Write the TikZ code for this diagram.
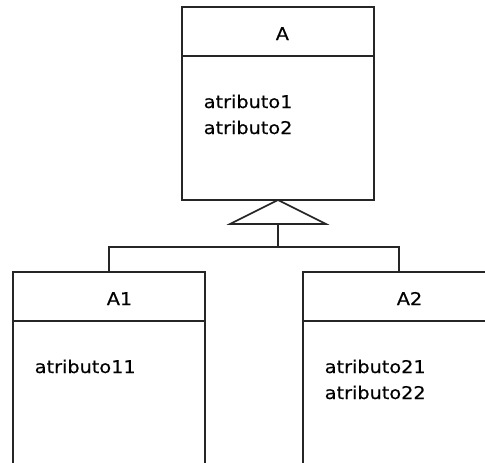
\documentclass[tikz,border=0pt]{standalone}
\usepackage{fontspec}
\setmainfont{DejaVu Sans}[FakeStretch=1.1,FakeBold=0.4]
\usetikzlibrary{positioning}

\tikzset{
  classhead/.style={draw,rectangle,minimum width=192pt,minimum height=49pt,inner sep=0pt,outer sep=0pt},
  classbody/.style={draw,rectangle,minimum width=192pt,inner sep=0pt,outer sep=0pt},
  classname/.style={anchor=base west,inner sep=0pt,font=\fontsize{17.5}{26}\selectfont},
  attr/.style={anchor=base west,inner sep=0pt,font=\fontsize{17.5}{26}\selectfont},
}

\begin{document}
\begin{tikzpicture}[x=1pt,y=1pt,line width=1.6pt,draw=black!85]
    \useasboundingbox (0,0) rectangle (485,-463);

    % Superclass
    \node [classhead] (Ahead) at (278,-31.5) {};
    \node [classbody,minimum height=144pt,below=0pt of Ahead] (Abody) {};
    \node [classname] (Aname) at ([xshift=93pt,yshift=-33pt]Ahead.north west) {A};
    \foreach \attr [count=\i] in {atributo1,atributo2} {
        \node [attr] (Aattr\i) at ([xshift=21pt,yshift={-52pt-26pt*(\i-1)}]Abody.north west) {\attr};
    }

    % Subclasses
    \foreach \cls/\x in {A1/109,A2/399} {
        \node [classhead] (\cls head) at (\x,-296.5) {};
        \node [classbody,minimum height=170pt,below=0pt of \cls head] (\cls body) {};
        \node [classname] (\cls name) at ([xshift=93pt,yshift=-33pt]\cls head.north west) {\cls};
    }
    \node [attr] (A1attr1) at ([xshift=21pt,yshift=-52pt]A1body.north west) {atributo11};
    \foreach \attr [count=\i] in {atributo21,atributo22} {
        \node [attr] (A2attr\i) at ([xshift=21pt,yshift={-52pt-26pt*(\i-1)}]A2body.north west) {\attr};
    }

    % Generalisation
    \coordinate (tri) at ([yshift=-24pt]Abody.south);
    \coordinate (bus) at ([yshift=-23pt]tri);
    \draw (Abody.south) -- ([xshift=-48pt]tri) -- ([xshift=48pt]tri) -- cycle;
    \draw (tri) -- (bus);
    \draw (bus) -| (A1head);
    \draw (bus) -| (A2head);
\end{tikzpicture}
\end{document}
